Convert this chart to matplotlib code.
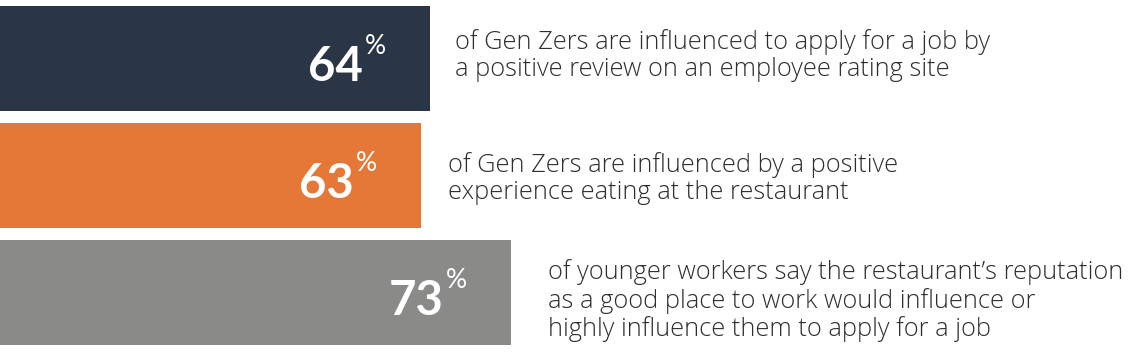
import matplotlib.pyplot as plt

# survey figures, top to bottom
values = [64, 63, 73]
descriptions = [
    "of Gen Zers are influenced to apply for a job by\na positive review on an employee rating site",
    "of Gen Zers are influenced by a positive\nexperience eating at the restaurant",
    "of younger workers say the restaurant\u2019s reputation\nas a good place to work would influence or\nhighly influence them to apply for a job",
]
bar_colors = ["#2a3546", "#e57737", "#8a8a88"]

# offset (pixels) of each description from the bar end
text_offset = [(25, 3), (27, -3), (37, -8)]

plt.rcParams['font.family'] = ['Open Sans', 'DejaVu Sans']

fig = plt.figure(figsize=(11.29, 3.57), dpi=100)
ax = fig.add_axes([0, 0, 1, 1])

ypos = list(range(len(values)))
ax.barh(ypos, values, height=0.9, color=bar_colors)

for i, v in enumerate(values):
    # big white number, right aligned inside the bar
    ax.annotate(str(v), xy=(v, i), xytext=(-67, -22), textcoords='offset pixels',
                ha='right', va='baseline', color='white', fontsize=34,
                fontweight='bold', family=['Lato', 'DejaVu Sans'])
    ax.annotate("%", xy=(v, i), xytext=(-65, 5), textcoords='offset pixels',
                ha='left', va='baseline', color='white', fontsize=19,
                family=['Lato', 'DejaVu Sans'])
    dx, dy = text_offset[i]
    ax.annotate(descriptions[i], xy=(v, i), xytext=(dx, dy), textcoords='offset pixels',
                ha='left', va='center', color='#2e2e2e', fontsize=18.3,
                fontweight='light', linespacing=1.12)

ax.set_xlim(146 / 9, (1129 + 146) / 9)
ax.set_ylim(2.55, -0.5)
ax.axis('off')

fig.savefig('out.png', dpi=100, facecolor='white')
